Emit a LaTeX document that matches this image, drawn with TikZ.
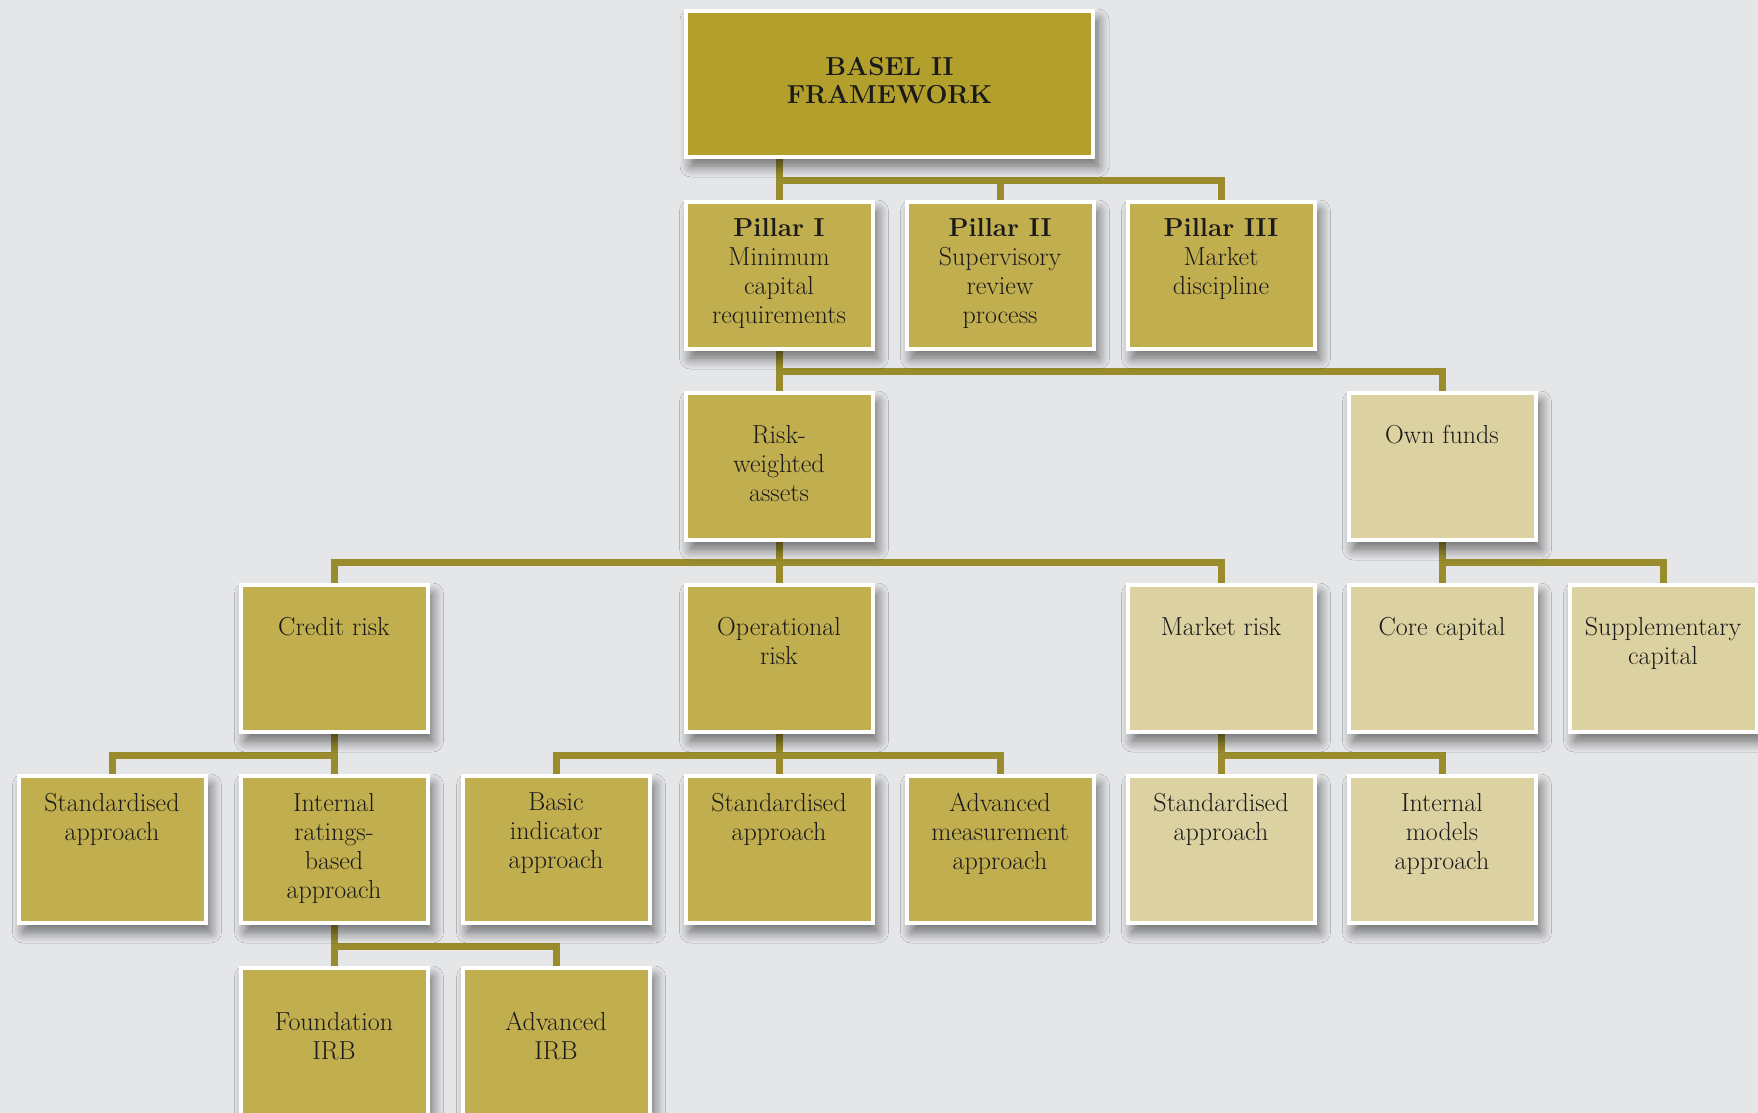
\documentclass[tikz,border=0pt]{standalone}
\usetikzlibrary{shadows.blur,backgrounds,calc}
\definecolor{bgc}{HTML}{E5E6E8}
\definecolor{darkc}{HTML}{B3A02C}
\definecolor{midc}{HTML}{C1AE4F}
\definecolor{lightc}{HTML}{DCD1A0}
\definecolor{linec}{HTML}{9A8B2C}
\definecolor{txtc}{HTML}{1A1A1A}
\begin{document}
\begin{tikzpicture}[x=1pt,y=-1pt,
  box/.style={draw=white, line width=4pt, minimum width=187pt, minimum height=147pt, inner sep=0pt,
    blur shadow={shadow xshift=5pt, shadow yshift=-9pt, shadow blur radius=11pt, shadow opacity=55, shadow blur steps=12}},
  mid/.style={box, fill=midc},
  light/.style={box, fill=lightc},
  txt/.style={font=\fontsize{26}{29}\selectfont, align=center, inner sep=0pt, text=txtc, anchor=north},
  conn/.style={draw=linec, line width=7pt, line cap=rect}]
\useasboundingbox (0,0) rectangle (1758,1113);

% boxes
\node[box, fill=darkc, minimum width=407pt, minimum height=146pt] (basel) at (889.5,84) {};
\node[mid] (pil1) at (779,275.5) {};
\node[mid] (pil2) at (1000,275.5) {};
\node[mid] (pil3) at (1221,275.5) {};
\node[mid] (rwa) at (779,466.5) {};
\node[light] (own) at (1442,466.5) {};
\node[mid] (credit) at (334,658.5) {};
\node[mid] (oper) at (779,658.5) {};
\node[light] (market) at (1221,658.5) {};
\node[light] (core) at (1442,658.5) {};
\node[light] (supp) at (1663,658.5) {};
\node[mid] (stdc) at (112,849.5) {};
\node[mid] (irb) at (334,849.5) {};
\node[mid] (basic) at (556,849.5) {};
\node[mid] (stdo) at (779,849.5) {};
\node[mid] (adv) at (1000,849.5) {};
\node[light] (stdm) at (1221,849.5) {};
\node[light] (intm) at (1442,849.5) {};
\node[mid] (found) at (334,1041.5) {};
\node[mid] (advirb) at (556,1041.5) {};

% texts
\node[txt, anchor=center, font=\fontsize{26}{28}\selectfont\bfseries] (t-basel) at ([yshift=3pt]basel.center) {BASEL II\\FRAMEWORK};
\node[txt] (t-pil1) at ([yshift=-18pt]pil1.north) {\textbf{Pillar I}\\Minimum\\capital\\requirements};
\node[txt] (t-pil2) at ([yshift=-18pt]pil2.north) {\textbf{Pillar II}\\Supervisory\\review\\process};
\node[txt] (t-pil3) at ([yshift=-18pt]pil3.north) {\textbf{Pillar III}\\Market\\discipline};
\node[txt] (t-rwa) at ([yshift=-34pt]rwa.north) {Risk-\\weighted\\assets};
\node[txt] (t-own) at ([yshift=-34pt]own.north) {Own funds};
\node[txt] (t-credit) at ([yshift=-34pt]credit.north) {Credit risk};
\node[txt] (t-oper) at ([yshift=-34pt]oper.north) {Operational\\risk};
\node[txt] (t-market) at ([yshift=-34pt]market.north) {Market risk};
\node[txt] (t-core) at ([yshift=-34pt]core.north) {Core capital};
\node[txt] (t-supp) at ([yshift=-34pt]supp.north) {Supplementary\\capital};
\node[txt] (t-stdc) at ([yshift=-19pt]stdc.north) {Standardised\\approach};
\node[txt] (t-irb) at ([yshift=-19pt]irb.north) {Internal\\ratings-\\based\\approach};
\node[txt] (t-basic) at ([yshift=-19pt]basic.north) {Basic\\indicator\\approach};
\node[txt] (t-stdo) at ([yshift=-19pt]stdo.north) {Standardised\\approach};
\node[txt] (t-adv) at ([yshift=-19pt]adv.north) {Advanced\\measurement\\approach};
\node[txt] (t-stdm) at ([yshift=-19pt]stdm.north) {Standardised\\approach};
\node[txt] (t-intm) at ([yshift=-19pt]intm.north) {Internal\\models\\approach};
\node[txt] (t-found) at ([yshift=-46pt]found.north) {Foundation\\IRB};
\node[txt] (t-advirb) at ([yshift=-46pt]advirb.north) {Advanced\\IRB};

% bar levels
\coordinate (b1) at (0,180);
\coordinate (b2) at (0,371);
\coordinate (b3) at (0,562);
\coordinate (b4) at (0,755);
\coordinate (b5) at (0,946);

\begin{scope}[on background layer]
\fill[bgc] (0,0) rectangle (1758,1113);
% Basel -> pillars
\draw[conn] (basel.south -| pil1) -- (pil1.north);
\draw[conn] (b1 -| pil1) -- (b1 -| pil3);
\draw[conn] (b1 -| pil2) -- (pil2.north);
\draw[conn] (b1 -| pil3) -- (pil3.north);
% Pillar I -> RWA, own funds
\draw[conn] (pil1.south) -- (rwa.north);
\draw[conn] (b2 -| pil1) -- (b2 -| own);
\draw[conn] (b2 -| own) -- (own.north);
% RWA -> credit, operational, market
\draw[conn] (rwa.south) -- (oper.north);
\draw[conn] (b3 -| credit) -- (b3 -| market);
\draw[conn] (b3 -| credit) -- (credit.north);
\draw[conn] (b3 -| market) -- (market.north);
% Own funds -> core, supplementary
\draw[conn] (own.south) -- (core.north);
\draw[conn] (b3 -| core) -- (b3 -| supp);
\draw[conn] (b3 -| supp) -- (supp.north);
% Credit -> standardised, IRB
\draw[conn] (credit.south) -- (irb.north);
\draw[conn] (b4 -| stdc) -- (b4 -| irb);
\draw[conn] (b4 -| stdc) -- (stdc.north);
% Operational -> basic, standardised, advanced
\draw[conn] (oper.south) -- (stdo.north);
\draw[conn] (b4 -| basic) -- (b4 -| adv);
\draw[conn] (b4 -| basic) -- (basic.north);
\draw[conn] (b4 -| adv) -- (adv.north);
% Market -> standardised, internal models
\draw[conn] (market.south) -- (stdm.north);
\draw[conn] (b4 -| stdm) -- (b4 -| intm);
\draw[conn] (b4 -| intm) -- (intm.north);
% IRB -> foundation, advanced
\draw[conn] (irb.south) -- (found.north);
\draw[conn] (b5 -| found) -- (b5 -| advirb);
\draw[conn] (b5 -| advirb) -- (advirb.north);
\end{scope}
\end{tikzpicture}
\end{document}
